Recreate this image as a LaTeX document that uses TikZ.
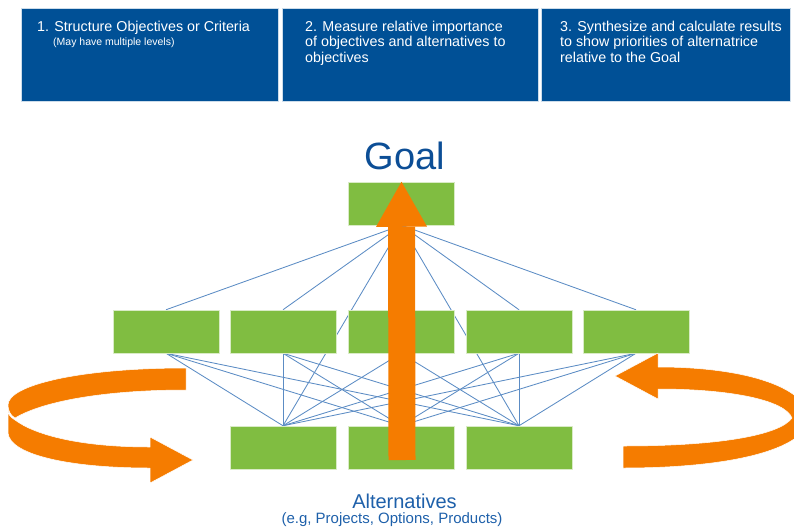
\documentclass[tikz,border=0pt]{standalone}
\usepackage{fontspec}
\setmainfont{Liberation Sans}
\usepackage{xcolor}
\usetikzlibrary{arrows.meta,calc,positioning,backgrounds}
\definecolor{ahpblue}{RGB}{0,80,150}
\definecolor{ahpgreen}{RGB}{128,189,65}
\definecolor{ahporange}{RGB}{245,124,0}
\definecolor{ahplink}{RGB}{92,140,196}
\definecolor{ahpgoaltext}{RGB}{12,78,150}
\definecolor{ahpalttext}{RGB}{30,96,170}

\begin{document}
\begin{tikzpicture}[x=1pt, y=-1pt, line join=round,
    phasebox/.style={fill=ahpblue, draw=white!80!ahpblue, line width=0.6pt,
      minimum height=93pt, inner sep=0pt, anchor=north west},
    phasetext/.style={text=white, anchor=north west, inner sep=0pt, align=left,
      font=\fontsize{14.3}{15.3}\selectfont},
    block/.style={fill=ahpgreen, draw=white!70!ahpgreen, line width=0.5pt,
      minimum width=106pt, minimum height=43pt, inner sep=0pt},
    link/.style={draw=ahplink, line width=0.85pt},
    uparrow/.style={draw=ahporange, line width=27pt,
      -{Triangle[length=45pt,width=51pt,line width=0pt]}},
    ribbon/.style={fill=ahporange, draw=white, line width=0.5pt}]
  \path[use as bounding box] (0,0) rectangle (794,527);

  % the three steps across the top
  \node[phasebox, minimum width=257pt] (phase1) at (21,8) {};
  \node[phasebox, minimum width=256pt, right=3pt of phase1] (phase2) {};
  \node[phasebox, minimum width=249pt, right=3pt of phase2] (phase3) {};
  \node[phasetext] (phase1txt) at (37,21) {1. Structure Objectives or Criteria};
  \node[phasetext, font=\fontsize{10.5}{12}\selectfont] (phase1note) at (53,38) {(May have multiple levels)};
  \node[phasetext] (phase2txt) at (305,21) {2. Measure relative importance\\of objectives and alternatives to\\objectives};
  \node[phasetext] (phase3txt) at (560,21) {3. Synthesize and calculate results\\to show priorities of alternatrice\\relative to the Goal};

  % hierarchy
  \node[font=\fontsize{38}{40}\selectfont, text=ahpgoaltext, anchor=base] (goaltitle) at (405,169) {Goal};
  \node[block] (goal) at (401.5,203.5) {};
  \foreach \x [count=\i] in {166,283,401,519,636}
    \node[block] (crit\i) at (\x,331.5) {};
  \foreach \x [count=\j] in {283,401,519}
    \node[block] (alt\j) at (\x,447.5) {};
  \node[font=\fontsize{20}{22}\selectfont, text=ahpalttext, anchor=base] (altlabel) at (404.5,508) {Alternatives};
  \node[font=\fontsize{15}{17}\selectfont, text=ahpalttext, anchor=base] (altnote) at (392,523) {(e.g, Projects, Options, Products)};

  \begin{scope}[on background layer]
    \foreach \i in {1,...,5}
      \draw[link] (goal.south) -- (crit\i.north);
    \foreach \j in {1,2,3}
      \draw[link] (goal.south) -- (alt\j.north);
    \foreach \i in {1,...,5}
      \foreach \j in {1,2,3}
        \draw[link] (crit\i.south) -- (alt\j.north);
  \end{scope}

  % synthesis arrow
  \coordinate (upfoot) at (402,460);
  \draw[uparrow] (upfoot) -- (goal.north);

  % circular arrows left and right
  \begin{scope}
    \clip (0,0) rectangle (794,527);
    \path[ribbon] (8,410) -- (8,433) .. controls (10,455) and (70,468) .. (150,468)
      -- (150,483) -- (193,460) -- (150,437) -- (150,447)
      .. controls (80,447) and (35,435) .. (15,420)
      .. controls (10,417) and (8,414) .. (8,410) -- cycle;
    \path[ribbon] (186,368) .. controls (80,368) and (8,385) .. (8,405)
      .. controls (8,410) and (10,415) .. (15,418)
      .. controls (45,400) and (110,390) .. (186,390) -- cycle;
    \path[ribbon] (623,446) -- (623,468) .. controls (730,468) and (805,450) .. (810,418)
      .. controls (805,385) and (740,367) .. (658,367) -- (658,353) -- (615,376)
      -- (658,399) -- (658,389) .. controls (730,389) and (785,400) .. (792,418)
      .. controls (780,435) and (720,446) .. (623,446) -- cycle;
  \end{scope}
\end{tikzpicture}
\end{document}
